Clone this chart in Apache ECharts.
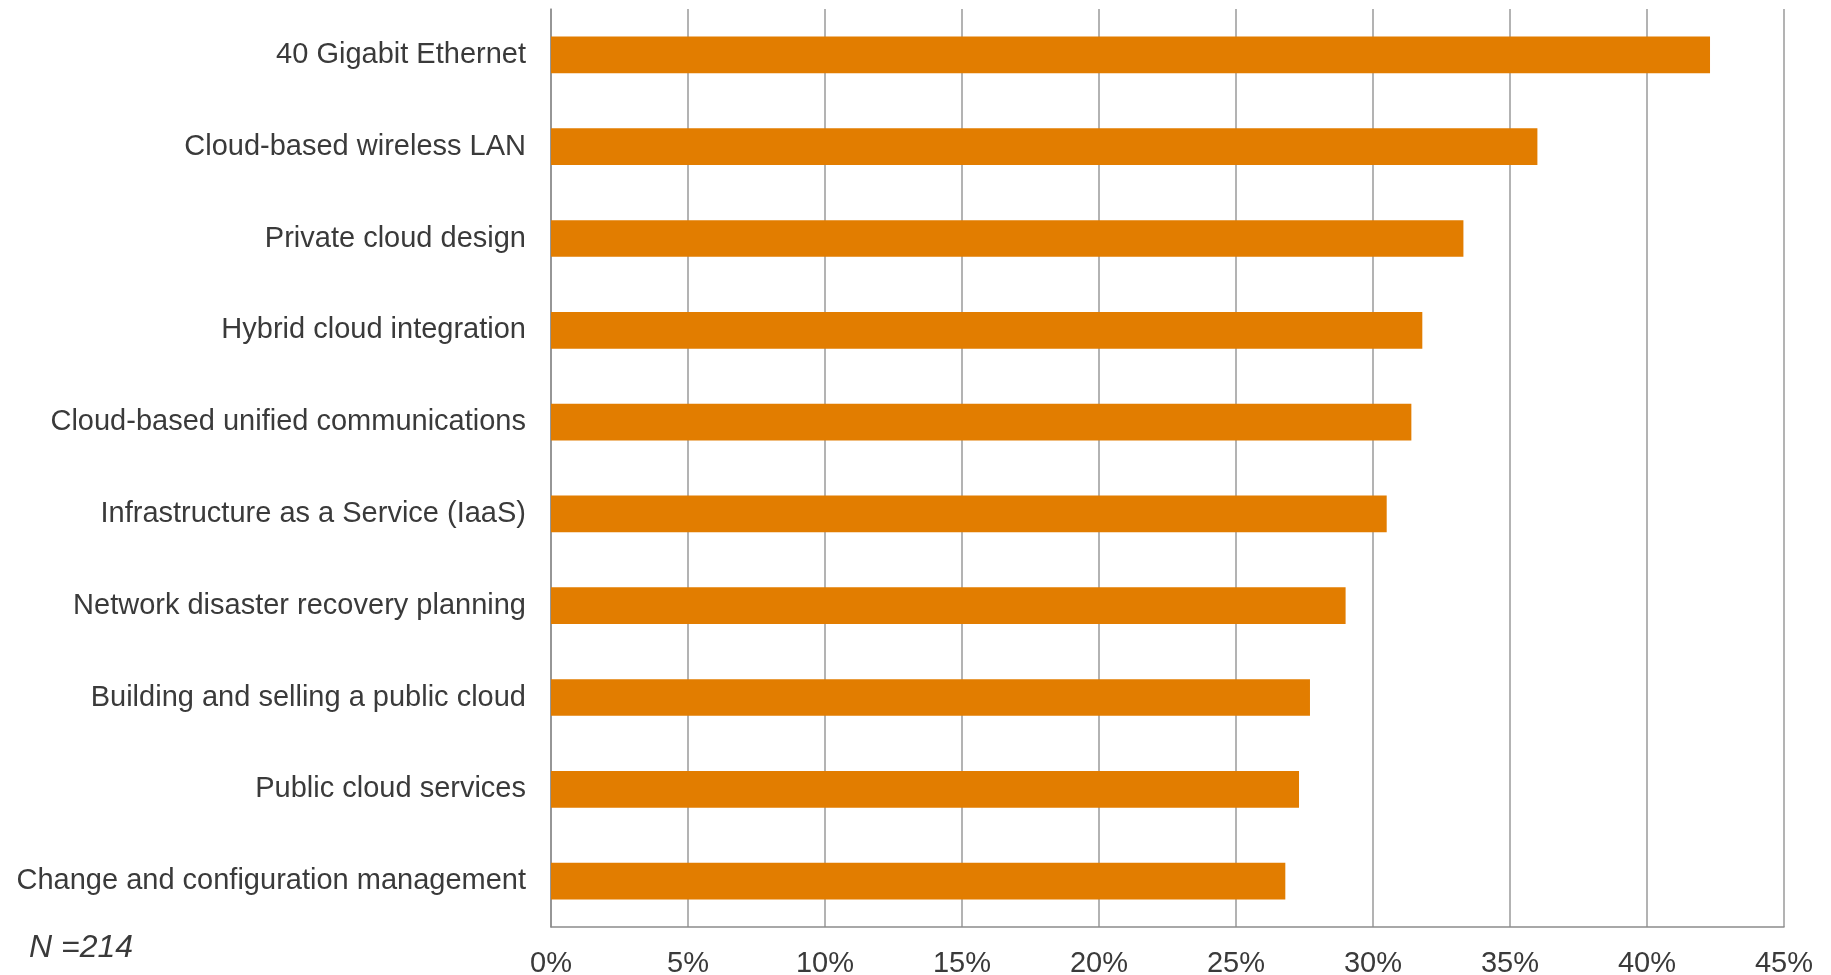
<!DOCTYPE html>
<html>
<head>
<meta charset="utf-8">
<script src="https://cdn.jsdelivr.net/npm/echarts@6/dist/echarts.min.js"></script>
<style>
  html, body { margin: 0; padding: 0; background: #ffffff; }
  #chart { width: 1831px; height: 975px; }
</style>
</head>
<body>
<div id="chart"></div>
<script>
// Technologies, listed top to bottom
const categories = [
  '40 Gigabit Ethernet',
  'Cloud-based wireless LAN',
  'Private cloud design',
  'Hybrid cloud integration',
  'Cloud-based unified communications',
  'Infrastructure as a Service (IaaS)',
  'Network disaster recovery planning',
  'Building and selling a public cloud',
  'Public cloud services',
  'Change and configuration management'
];

// Share of respondents, in percent
const shares = [42.3, 36.0, 33.3, 31.8, 31.4, 30.5, 29.0, 27.7, 27.3, 26.8];

// Value axis range and step, in percent
const axisMin = 0;
const axisMax = 45;
const axisStep = 5;

const sampleNote = 'N =214';

const FONT = '"Liberation Sans", Arial, Helvetica, sans-serif';
const TEXT = '#3a3a3a';
const GRID_GRAY = '#9a9a9a';

const chart = echarts.init(document.getElementById('chart'), null, { renderer: 'canvas' });

chart.setOption({
  animation: false,
  backgroundColor: '#ffffff',
  grid: {
    left: 551, right: 47, top: 9, bottom: 48,
    containLabel: false,
    outerBoundsMode: 'none'
  },
  xAxis: {
    type: 'value',
    min: axisMin,
    max: axisMax,
    interval: axisStep,
    axisLine: { show: true, lineStyle: { color: '#8c8c8c', width: 1.5 } },
    axisTick: { show: false },
    axisLabel: {
      formatter: '{value}%',
      color: TEXT,
      fontFamily: FONT,
      fontSize: 29,
      margin: 22
    },
    splitLine: { show: true, lineStyle: { color: GRID_GRAY, width: 1.5 } }
  },
  yAxis: {
    type: 'category',
    data: categories,
    inverse: true,
    axisLine: { show: true, lineStyle: { color: '#8c8c8c', width: 1.5 } },
    axisTick: { show: false },
    axisLabel: {
      color: TEXT,
      fontFamily: FONT,
      fontSize: 29,
      margin: 25
    },
    splitLine: { show: false }
  },
  series: [{
    type: 'bar',
    data: shares,
    barCategoryGap: '60%',
    itemStyle: { color: '#E27D00' },
    emphasis: { disabled: true }
  }],
  graphic: [{
    type: 'text',
    left: 29,
    top: 932,
    style: {
      text: sampleNote,
      fill: TEXT,
      font: 'italic 32px ' + FONT
    }
  }]
});
</script>
</body>
</html>
